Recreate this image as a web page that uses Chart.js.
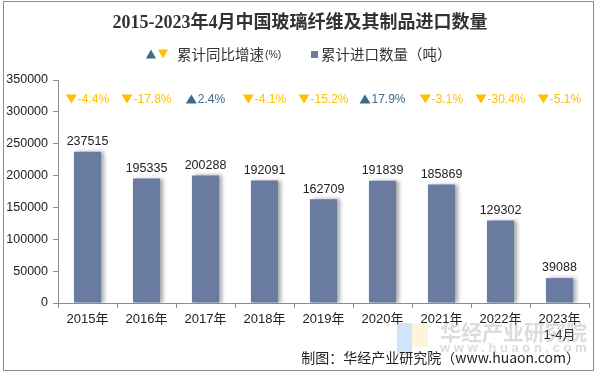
<!DOCTYPE html>
<html>
<head>
    <meta charset="utf-8">
    <title>玻璃纤维及其制品进口数量</title>
    <script src="https://cdn.jsdelivr.net/npm/chart.js"></script>
    <style>
        body { margin: 0; background: #fff; }
        .wrap { position: relative; width: 597px; height: 374px; }
    </style>
</head>
<body>
    <div class="wrap"><canvas id="chart"></canvas></div>
    <script>
        // data
        var years = ["2015年", "2016年", "2017年", "2018年", "2019年", "2020年", "2021年", "2022年", ["2023年", "1-4月"]];
        var imports = [237515, 195335, 200288, 192091, 162709, 191839, 185869, 129302, 39088];
        var growth = [-4.4, -17.8, 2.4, -4.1, -15.2, 17.9, -3.1, -30.4, -5.1];
        var yTicks = [0, 50000, 100000, 150000, 200000, 250000, 300000, 350000];

        var FONT = '"Liberation Sans", Arial, "Noto Sans CJK SC", sans-serif';
        var CJK = '"Noto Sans CJK SC", "Liberation Sans", sans-serif';
        var BAR = "#6a7ba2";
        var UP = "#3d6b8c";
        var DOWN = "#ffc000";
        var AXIS = "#8c8c8c";

        function tri(ctx, x, y, w, h, up, color) {
            ctx.fillStyle = color;
            ctx.beginPath();
            if (up) {
                ctx.moveTo(x, y + h / 2); ctx.lineTo(x + w, y + h / 2); ctx.lineTo(x + w / 2, y - h / 2);
            } else {
                ctx.moveTo(x, y - h / 2); ctx.lineTo(x + w, y - h / 2); ctx.lineTo(x + w / 2, y + h / 2);
            }
            ctx.closePath();
            ctx.fill();
        }

        var shadowPlugin = {
            id: "barShadow",
            beforeDatasetDraw: function (chart) {
                var ctx = chart.ctx;
                ctx.save();
                ctx.shadowColor = "rgba(0,0,0,0.35)";
                ctx.shadowOffsetX = 3;
                ctx.shadowOffsetY = 0;
                ctx.shadowBlur = 4;
            },
            afterDatasetDraw: function (chart) {
                chart.ctx.restore();
            }
        };

        var decorPlugin = {
            id: "decor",
            afterDraw: function (chart) {
                var ctx = chart.ctx;
                var xs = chart.scales.x;
                var meta = chart.getDatasetMeta(0);
                ctx.save();

                // value labels above bars
                ctx.font = "12.5px " + FONT;
                ctx.fillStyle = "#222";
                ctx.textAlign = "center";
                ctx.textBaseline = "bottom";
                meta.data.forEach(function (bar, i) {
                    ctx.fillText(imports[i], bar.x, bar.y - 4);
                });

                // growth row
                var rowY = chart.chartArea.top + 19;
                ctx.font = "12px " + FONT;
                ctx.textAlign = "left";
                ctx.textBaseline = "middle";
                growth.forEach(function (g, i) {
                    var up = g > 0;
                    var txt = g.toFixed(1) + "%";
                    var tw = ctx.measureText(txt).width;
                    var total = 11 + 1 + tw;
                    var x0 = xs.getPixelForValue(i) - total / 2;
                    var col = up ? UP : DOWN;
                    tri(ctx, x0, rowY, 11, 9, up, col);
                    ctx.fillStyle = col;
                    ctx.fillText(txt, x0 + 12, rowY + 0.5);
                });

                // title
                ctx.textAlign = "center";
                ctx.fillStyle = "#333";
                ctx.font = 'bold 18px "Liberation Serif", "Noto Sans CJK SC", serif';
                ctx.fillText("2015-2023年4月中国玻璃纤维及其制品进口数量", 300, 23);

                // legend
                tri(ctx, 146, 54, 10, 9, true, UP);
                tri(ctx, 158, 54, 10, 9, false, DOWN);
                ctx.textAlign = "left";
                ctx.fillStyle = "#333";
                ctx.font = "14.5px " + CJK;
                ctx.fillText("累计同比增速", 177, 54);
                var w1 = ctx.measureText("累计同比增速").width;
                ctx.font = "10.5px " + FONT;
                ctx.fillText("(%)", 177 + w1 + 1, 55);
                ctx.fillStyle = BAR;
                ctx.fillRect(311, 51, 7, 7);
                ctx.fillStyle = "#333";
                ctx.font = "14.5px " + CJK;
                ctx.fillText("累计进口数量（吨）", 321, 54);

                // watermark
                ctx.globalAlpha = 0.45;
                ctx.fillStyle = "#9cc3f0";
                ctx.fillRect(397, 323, 15, 32);
                ctx.fillStyle = "#fbe9a8";
                ctx.fillRect(412, 323, 16, 24);
                ctx.globalAlpha = 0.3;
                ctx.fillStyle = "#8a8a8a";
                ctx.font = "bold 21px " + CJK;
                ctx.fillText("华经产业研究院", 440, 332);
                ctx.font = "bold 13px " + FONT;
                ctx.fillText("w w w . h u a o n . c o m", 440, 348);
                ctx.globalAlpha = 1;

                // source
                ctx.textAlign = "right";
                ctx.fillStyle = "#222";
                ctx.font = "14px " + CJK;
                ctx.fillText("制图：华经产业研究院（www.huaon.com）", 580, 358);

                // frame
                ctx.strokeStyle = AXIS;
                ctx.lineWidth = 1;
                ctx.strokeRect(3.5, 1.5, 590, 369);
                ctx.restore();
            }
        };

        var ctx = document.getElementById("chart").getContext("2d");
        new Chart(ctx, {
            type: "bar",
            data: {
                labels: years,
                datasets: [{
                    label: "累计进口数量（吨）",
                    data: imports,
                    backgroundColor: BAR,
                    barPercentage: 0.92,
                    categoryPercentage: 0.5
                }]
            },
            options: {
                responsive: true,
                maintainAspectRatio: false,
                animation: false,
                events: [],
                layout: { padding: { top: 80, right: 8, bottom: 0, left: 0 } },
                plugins: {
                    legend: { display: false },
                    title: { display: false },
                    tooltip: { enabled: false }
                },
                scales: {
                    x: {
                        offset: true,
                        grid: { display: true, drawOnChartArea: false, offset: true, tickLength: 5, color: AXIS },
                        border: { color: AXIS },
                        ticks: { color: "#222", font: { family: FONT, size: 13 }, padding: 4, maxRotation: 0, autoSkip: false },
                        afterFit: function (s) { s.height = 71; }
                    },
                    y: {
                        min: 0,
                        max: 350000,
                        afterBuildTicks: function (s) { s.ticks = yTicks.map(function (v) { return { value: v }; }); },
                        grid: { display: true, drawOnChartArea: false, tickLength: 5, color: AXIS },
                        border: { color: AXIS },
                        ticks: {
                            color: "#222", font: { family: FONT, size: 12.5 }, padding: 5,
                            callback: function (v) { return String(v); }
                        },
                        afterFit: function (s) { s.width = 58; }
                    }
                }
            },
            plugins: [shadowPlugin, decorPlugin]
        });
    </script>
</body>
</html>
